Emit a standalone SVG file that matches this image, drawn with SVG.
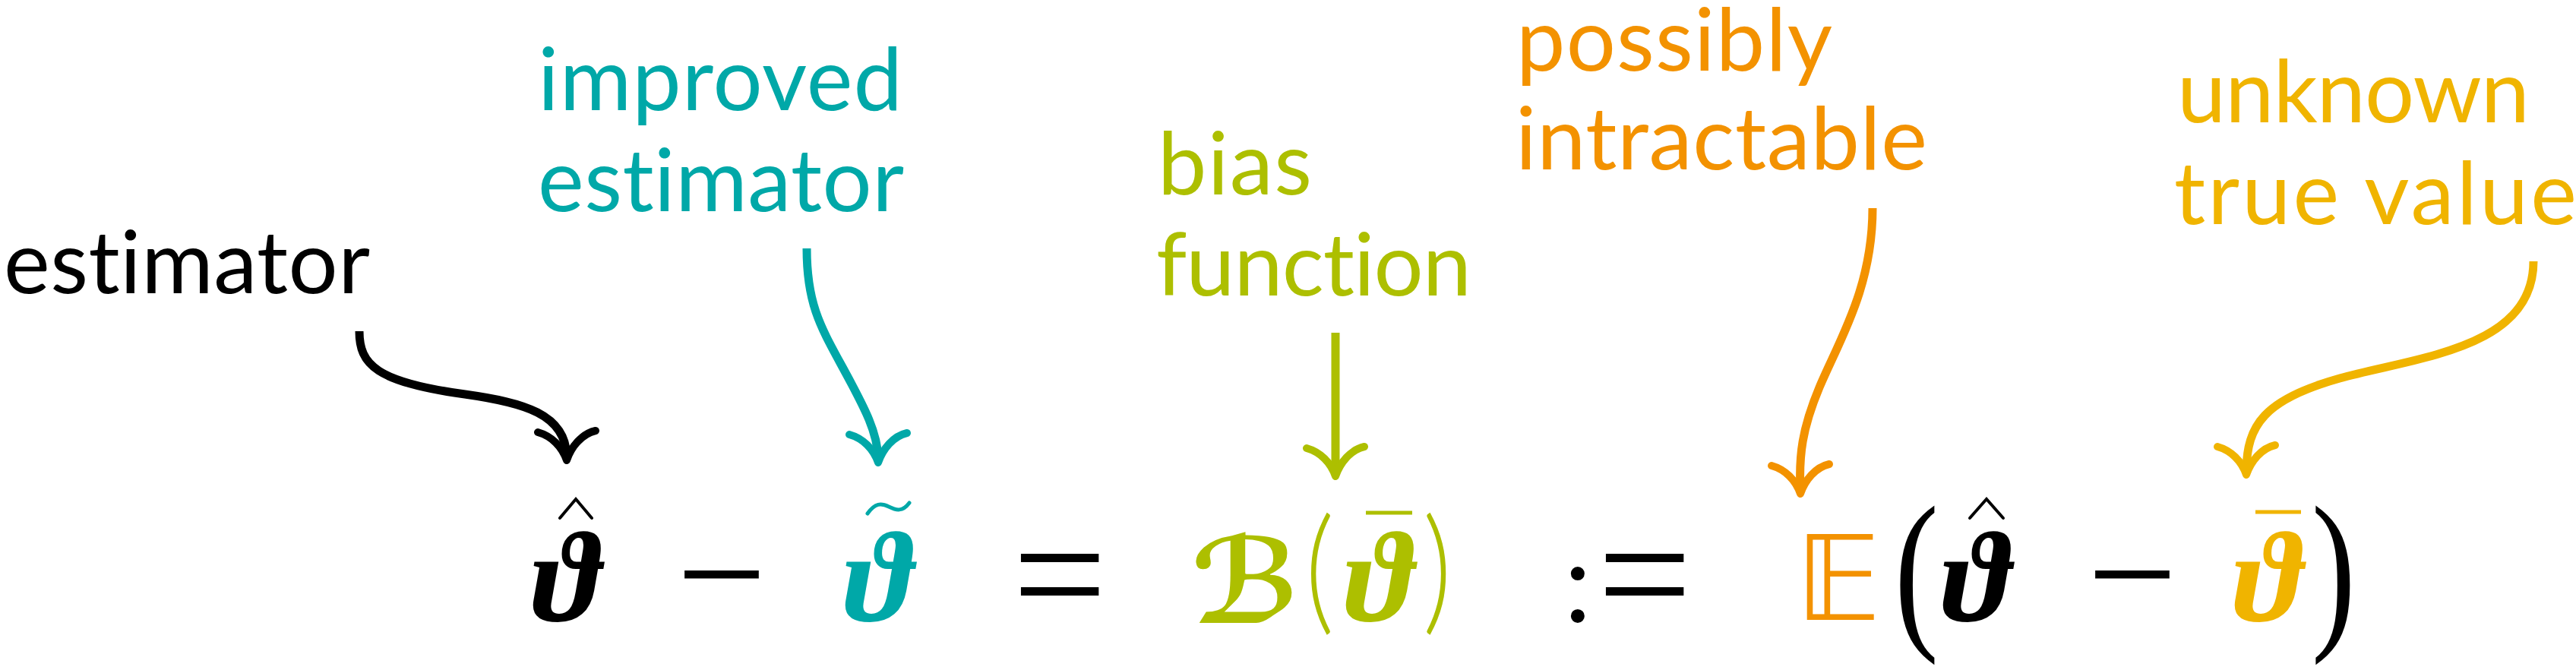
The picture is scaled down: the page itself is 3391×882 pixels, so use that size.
<svg xmlns="http://www.w3.org/2000/svg" xmlns:xlink="http://www.w3.org/1999/xlink" width="3391" height="882" viewBox="0 0 3391 882">
<style>
.lbl{font-family:Lato,"Open Sans","Liberation Sans",sans-serif;font-size:115px;font-weight:400;font-variant-ligatures:none}
.m{font-family:"Liberation Serif","DejaVu Serif",serif}
.th{font-family:"Liberation Serif","DejaVu Serif",serif;font-size:170px;font-weight:bold;font-style:italic;text-anchor:middle}
.op{text-anchor:middle;fill:#000}
.par{font-family:Lato,"Liberation Sans",sans-serif;font-weight:300;text-anchor:middle}
.con{fill:none;stroke-width:11;stroke-linecap:butt}
.acc{fill:none;stroke-linecap:round;stroke-linejoin:miter}
</style>
<defs>
<path id="ah" d="M-38,-37 C-20,-32 -6,-18 0,0 C6,-18 20,-35 38,-39" fill="none" stroke-width="10" stroke-linecap="round" stroke-linejoin="round"/>
</defs>
<rect width="3391" height="882" fill="#fff"/>

<g id="label-estimator"><text class="lbl" x="5" y="386" fill="#000" textLength="482" lengthAdjust="spacing">estimator</text></g>
<g id="label-improved"><text class="lbl" x="708" y="145" fill="#00a8a8" textLength="480" lengthAdjust="spacing">improved</text><text class="lbl" x="708" y="278" fill="#00a8a8" textLength="482" lengthAdjust="spacing">estimator</text></g>
<g id="label-bias"><text class="lbl" x="1524" y="256" fill="#adbf00" textLength="203" lengthAdjust="spacing">bias</text><text class="lbl" x="1522" y="389" fill="#adbf00" textLength="415" lengthAdjust="spacing">function</text></g>
<g id="label-intractable"><text class="lbl" x="1996" y="93" fill="#f39200" textLength="416" lengthAdjust="spacing">possibly</text><text class="lbl" x="1995" y="223" fill="#f39200" textLength="542" lengthAdjust="spacing">intractable</text></g>
<g id="label-true"><text class="lbl" x="2866" y="161" fill="#f0b400" textLength="464" lengthAdjust="spacing">unknown</text><text class="lbl" x="2862" y="295" fill="#f0b400" textLength="530" lengthAdjust="spacing">true value</text></g>

<g id="formula">
<g id="theta-hat"><text class="th" x="745" y="817" fill="#000">ϑ</text><path class="acc" d="M737,682 L758,657 L779,682" stroke="#000" stroke-width="4"/></g>
<text class="m op" x="950" y="826" font-size="210">−</text>
<g id="theta-tilde"><text class="th" x="1156" y="817" fill="#00a8a8">ϑ</text><path class="acc" d="M1142,676 C1152,662 1160,662 1170,667 C1180,672 1188,674 1197,662" stroke="#00a8a8" stroke-width="5"/></g>
<text class="m op" x="1395" y="830" font-size="220">=</text>
<g id="bias-fn" fill="#adbf00">
<text x="1640" y="820" font-family="'DejaVu Serif','DejaVu Sans',serif" font-size="155" font-weight="bold" font-style="italic" text-anchor="middle">ℬ</text>
<text class="par" font-size="150" transform="translate(1737,812) scale(1,1.2)">(</text>
<text class="th" x="1815" y="817">ϑ</text>
<path d="M1798,675 H1859" stroke="#adbf00" stroke-width="5"/>
<text class="par" font-size="150" transform="translate(1892,812) scale(1,1.2)">)</text>
</g>
<text class="m op" x="2077" y="818" font-size="153">:</text>
<text class="m op" x="2165" y="830" font-size="220">=</text>
<text id="expectation" x="2420" y="816" font-family="'DejaVu Sans','DejaVu Serif',serif" font-size="155" text-anchor="middle" fill="#f39200">𝔼</text>
<text class="m op" font-size="175" transform="translate(2523,826) scale(1,1.32)">(</text>
<g id="theta-hat-2"><text class="th" x="2601" y="817" fill="#000">ϑ</text><path class="acc" d="M2593,682 L2615,657 L2637,682" stroke="#000" stroke-width="4"/></g>
<text class="m op" x="2807" y="826" font-size="210">−</text>
<g id="theta-bar"><text class="th" x="2985" y="817" fill="#f0b400">ϑ</text><path d="M2969,674 H3029" stroke="#f0b400" stroke-width="5"/></g>
<text class="m op" font-size="175" transform="translate(3072,826) scale(1,1.32)">)</text>
</g>

<g id="connectors">
<path class="con" stroke="#000" d="M473,436 C473,480 495,503 612,519 C690,530 744,545 746,600"/>
<use xlink:href="#ah" x="746" y="606" stroke="#000"/>
<path class="con" stroke="#00a8a8" d="M1062,327 C1062,400 1080,430 1110,485 C1140,540 1155,570 1156,603"/>
<use xlink:href="#ah" x="1156" y="609" stroke="#00a8a8"/>
<path class="con" stroke="#adbf00" d="M1758,438 L1758,621"/>
<use xlink:href="#ah" x="1758" y="627" stroke="#adbf00"/>
<path class="con" stroke="#f39200" d="M2465,274 C2465,380 2420,450 2395,510 C2372,565 2368,600 2370,644"/>
<use xlink:href="#ah" x="2370" y="650" stroke="#f39200"/>
<path class="con" stroke="#f0b400" d="M3335,344 C3335,460 3180,470 3080,498 C2980,526 2958,560 2957,619"/>
<use xlink:href="#ah" x="2957" y="625" stroke="#f0b400"/>
</g>
</svg>
